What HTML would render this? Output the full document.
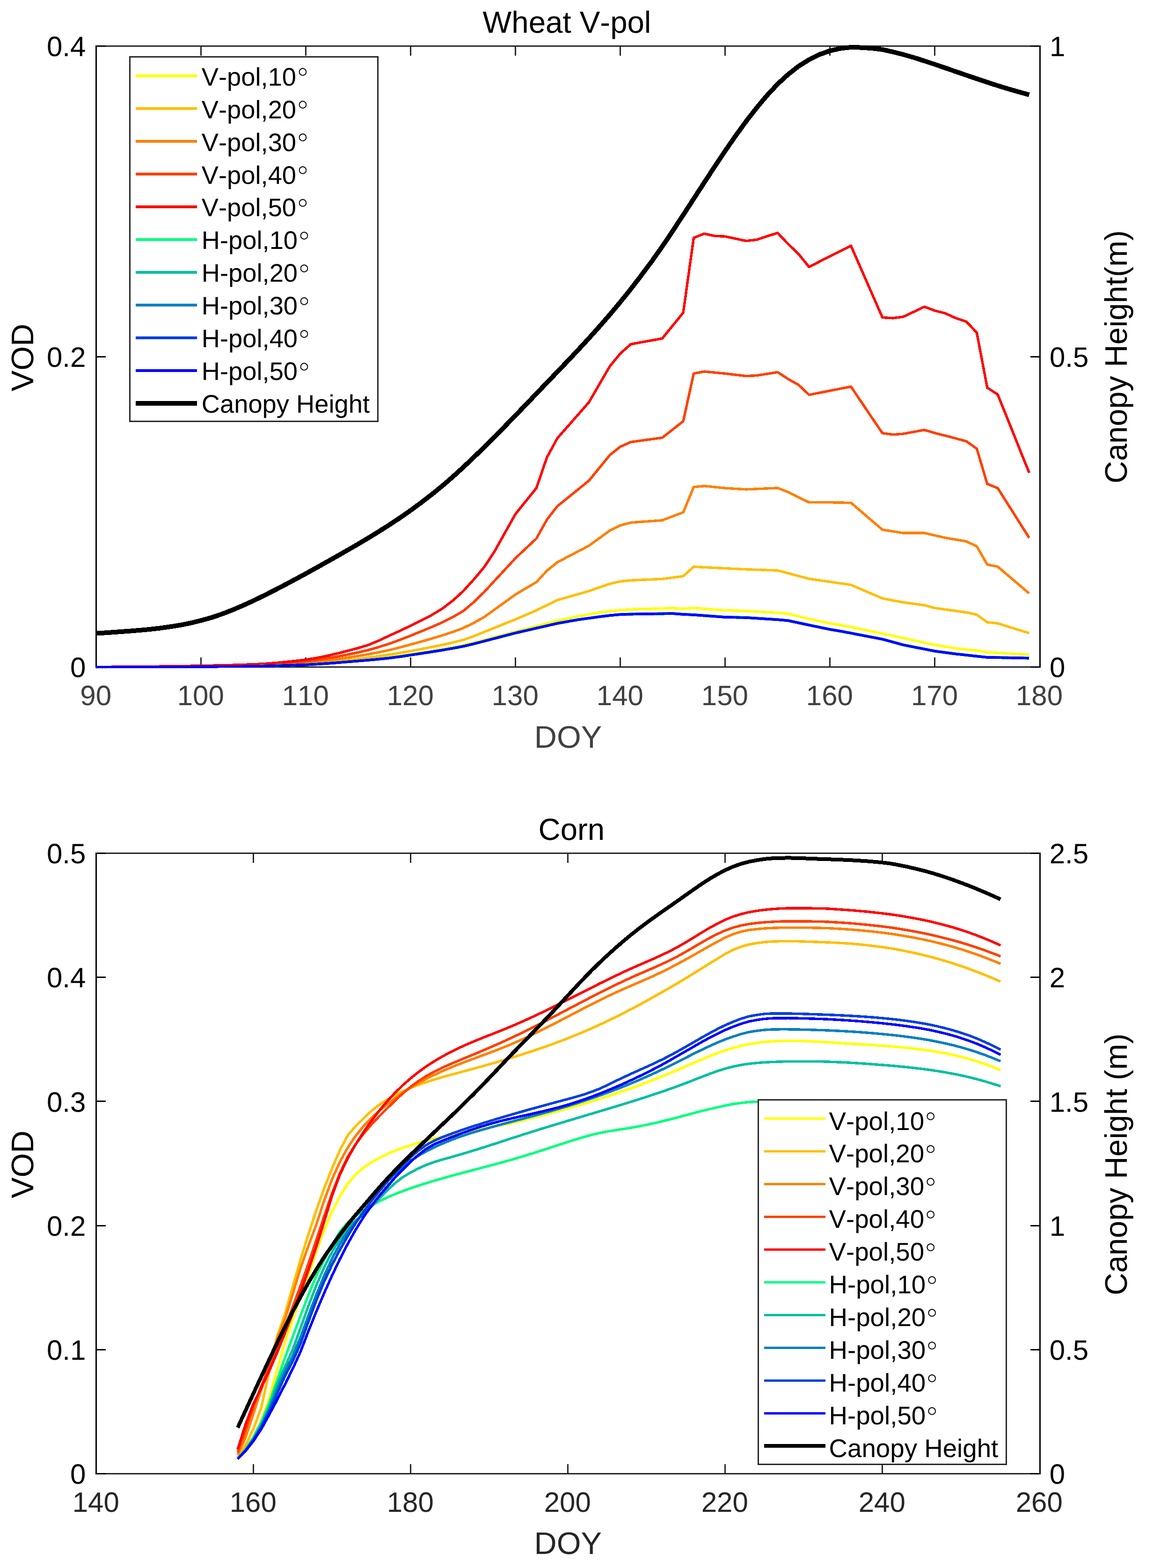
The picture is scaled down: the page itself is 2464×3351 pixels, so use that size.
<!DOCTYPE html>
<html lang="en">
<head>
<meta charset="utf-8">
<title>VOD and canopy height: Wheat V-pol / Corn</title>
<style>
html,body{margin:0;padding:0;background:#fff;}
body{width:2464px;height:3351px;overflow:hidden;}
svg{display:block;}
text{font-family:"Liberation Sans", sans-serif;white-space:pre;font-kerning:none;font-feature-settings:"kern" 0,"liga" 0;text-rendering:geometricPrecision;}
</style>
</head>
<body>
<svg width="2464" height="3351" viewBox="0 0 2464 3351">
<rect width="2464" height="3351" fill="#fff"/>
<g id="chart-wheat">
<g stroke="#262626" stroke-width="3" fill="none" shape-rendering="crispEdges">
<line x1="204" y1="98.5" x2="2223.9" y2="98.5"/>
<line x1="204" y1="1425.8" x2="2223.9" y2="1425.8"/>
<line x1="429.5" y1="1425.8" x2="429.5" y2="1405.3"/>
<line x1="429.5" y1="98.5" x2="429.5" y2="119"/>
<line x1="653.6" y1="1425.8" x2="653.6" y2="1405.3"/>
<line x1="653.6" y1="98.5" x2="653.6" y2="119"/>
<line x1="877.6" y1="1425.8" x2="877.6" y2="1405.3"/>
<line x1="877.6" y1="98.5" x2="877.6" y2="119"/>
<line x1="1101.6" y1="1425.8" x2="1101.6" y2="1405.3"/>
<line x1="1101.6" y1="98.5" x2="1101.6" y2="119"/>
<line x1="1325.7" y1="1425.8" x2="1325.7" y2="1405.3"/>
<line x1="1325.7" y1="98.5" x2="1325.7" y2="119"/>
<line x1="1549.7" y1="1425.8" x2="1549.7" y2="1405.3"/>
<line x1="1549.7" y1="98.5" x2="1549.7" y2="119"/>
<line x1="1773.7" y1="1425.8" x2="1773.7" y2="1405.3"/>
<line x1="1773.7" y1="98.5" x2="1773.7" y2="119"/>
<line x1="1997.8" y1="1425.8" x2="1997.8" y2="1405.3"/>
<line x1="1997.8" y1="98.5" x2="1997.8" y2="119"/>
</g>
<g stroke="#000" stroke-width="3" fill="none" shape-rendering="crispEdges">
<line x1="205.5" y1="97" x2="205.5" y2="1427.3"/>
<line x1="2222.4" y1="97" x2="2222.4" y2="1427.3"/>
<line x1="205.5" y1="1425.8" x2="226" y2="1425.8"/>
<line x1="2222.4" y1="1425.8" x2="2201.9" y2="1425.8"/>
<line x1="205.5" y1="762.1" x2="226" y2="762.1"/>
<line x1="2222.4" y1="762.1" x2="2201.9" y2="762.1"/>
<line x1="205.5" y1="98.5" x2="226" y2="98.5"/>
<line x1="2222.4" y1="98.5" x2="2201.9" y2="98.5"/>
</g>
<g>
<polyline points="205.5,1425.8 227.9,1425.8 250.3,1425.7 272.7,1425.6 295.1,1425.6 317.5,1425.5 339.9,1425.4 362.3,1425.3 384.7,1425.1 407.1,1425 429.5,1424.8 451.9,1424.6 474.3,1424.4 496.7,1424.1 519.1,1423.9 541.5,1423.5 564,1423 586.4,1422.3 608.8,1421.5 631.2,1420.6 653.6,1419.5 676,1418.1 698.4,1416.5 720.8,1414.7 743.2,1412.9 765.6,1411.1 788,1409.2 810.4,1407 832.8,1404.6 855.2,1401.6 877.6,1398.3 900,1394.8 922.4,1391.2 944.8,1387.5 967.2,1383.5 989.6,1379.1 1012,1373.7 1034.4,1367.8 1056.8,1361.8 1079.2,1355.8 1101.6,1349.8 1124,1344 1146.4,1338.2 1168.8,1332.4 1191.2,1326.6 1213.7,1321.8 1236.1,1317 1258.5,1313 1280.9,1309 1303.3,1306.2 1325.7,1303.9 1348.1,1302.4 1370.5,1301.6 1392.9,1301.1 1415.3,1300.4 1437.7,1299.7 1460.1,1300.9 1482.5,1299.4 1504.9,1301 1527.3,1302.7 1549.7,1304.4 1572.1,1305 1594.5,1305.7 1616.9,1307 1639.3,1308.3 1661.7,1309.7 1684.1,1311.7 1706.5,1317.1 1728.9,1322.6 1751.3,1327.4 1773.7,1332.2 1796.1,1335.7 1818.5,1340.2 1840.9,1344.8 1863.3,1349.5 1885.8,1354.1 1908.2,1358.9 1930.6,1363.7 1953,1368.6 1975.4,1373.5 1997.8,1378.3 2020.2,1382 2042.6,1385.6 2065,1388 2087.4,1390.3 2109.8,1393.9 2132.2,1395.2 2154.6,1396.4 2177,1397.7 2199.4,1398.9" fill="none" stroke="#ffff00" stroke-width="5.4" stroke-linejoin="round" stroke-linecap="butt" shape-rendering="crispEdges"/>
<polyline points="205.5,1425.8 227.9,1425.7 250.3,1425.5 272.7,1425.4 295.1,1425.3 317.5,1425.1 339.9,1425 362.3,1424.9 384.7,1424.8 407.1,1424.6 429.5,1424.5 451.9,1424.3 474.3,1424.1 496.7,1423.8 519.1,1423.5 541.5,1423.2 564,1422.7 586.4,1421.9 608.8,1420.8 631.2,1419.7 653.6,1418.5 676,1417 698.4,1415.2 720.8,1413.1 743.2,1410.7 765.6,1408.1 788,1405.3 810.4,1402.2 832.8,1398.9 855.2,1395.3 877.6,1391.3 900,1387.1 922.4,1382.8 944.8,1378.3 967.2,1373.3 989.6,1367.7 1012,1359.9 1034.4,1350.8 1056.8,1341.8 1079.2,1332.7 1101.6,1323.6 1124,1314 1146.4,1304.4 1168.8,1293.4 1191.2,1282.5 1213.7,1276 1236.1,1269.6 1258.5,1263.2 1280.9,1255.4 1303.3,1247.6 1325.7,1242.6 1348.1,1240.3 1370.5,1239.3 1392.9,1238.3 1415.3,1237.3 1437.7,1234.3 1460.1,1231.4 1482.5,1211.1 1504.9,1212.4 1527.3,1213.5 1549.7,1214.6 1572.1,1215.7 1594.5,1216.8 1616.9,1217.5 1639.3,1218.3 1661.7,1219.1 1684.1,1225 1706.5,1231 1728.9,1237 1751.3,1240.2 1773.7,1243.5 1796.1,1246.7 1818.5,1249.9 1840.9,1259.6 1863.3,1269.2 1885.8,1278.8 1908.2,1283.1 1930.6,1287.4 1953,1290.4 1975.4,1293.4 1997.8,1299.4 2020.2,1302.5 2042.6,1305.6 2065,1308.7 2087.4,1313.6 2109.8,1329.9 2132.2,1332.2 2154.6,1339.2 2177,1346.2 2199.4,1353.1" fill="none" stroke="#ffbf00" stroke-width="5.4" stroke-linejoin="round" stroke-linecap="butt" shape-rendering="crispEdges"/>
<polyline points="205.5,1425.5 227.9,1425.4 250.3,1425.4 272.7,1425.3 295.1,1425.2 317.5,1425.1 339.9,1425 362.3,1424.8 384.7,1424.6 407.1,1424.4 429.5,1424.1 451.9,1423.9 474.3,1423.5 496.7,1423.1 519.1,1422.8 541.5,1422.3 564,1421.7 586.4,1420.5 608.8,1419.2 631.2,1417.8 653.6,1416.2 676,1414.1 698.4,1411.7 720.8,1408.7 743.2,1405.3 765.6,1401.8 788,1398 810.4,1393.8 832.8,1389 855.2,1383.5 877.6,1377.4 900,1371.1 922.4,1364.8 944.8,1358.1 967.2,1350.7 989.6,1342.4 1012,1331.4 1034.4,1319 1056.8,1302.8 1079.2,1286.7 1101.6,1270.5 1124,1257.2 1146.4,1244 1168.8,1219.7 1191.2,1201.5 1213.7,1189.8 1236.1,1178 1258.5,1166.3 1280.9,1150.1 1303.3,1133.8 1325.7,1122.8 1348.1,1116.9 1370.5,1115.2 1392.9,1113.6 1415.3,1111.9 1437.7,1103.4 1460.1,1095 1482.5,1040.9 1504.9,1038.6 1527.3,1040.9 1549.7,1043.2 1572.1,1044.5 1594.5,1045.9 1616.9,1044.9 1639.3,1043.9 1661.7,1042.9 1684.1,1051.5 1706.5,1062.6 1728.9,1073.7 1751.3,1073.7 1773.7,1073.7 1796.1,1074.1 1818.5,1074.4 1840.9,1093.6 1863.3,1112.9 1885.8,1132.1 1908.2,1135.6 1930.6,1139.1 1953,1139.1 1975.4,1139.1 1997.8,1144.2 2020.2,1149.4 2042.6,1153.2 2065,1157 2087.4,1167.6 2109.8,1206.5 2132.2,1211.1 2154.6,1230.1 2177,1249.2 2199.4,1268.2" fill="none" stroke="#ff8000" stroke-width="5.4" stroke-linejoin="round" stroke-linecap="butt" shape-rendering="crispEdges"/>
<polyline points="205.5,1425.5 227.9,1425.4 250.3,1425.3 272.7,1425.1 295.1,1425 317.5,1424.8 339.9,1424.6 362.3,1424.4 384.7,1424.1 407.1,1423.8 429.5,1423.5 451.9,1423.1 474.3,1422.6 496.7,1422.1 519.1,1421.7 541.5,1421.1 564,1420.3 586.4,1418.9 608.8,1417.2 631.2,1415.5 653.6,1413.5 676,1410.6 698.4,1407.1 720.8,1403.2 743.2,1398.9 765.6,1394.3 788,1389 810.4,1382.6 832.8,1375.4 855.2,1367.3 877.6,1358.4 900,1349.3 922.4,1340.1 944.8,1330.3 967.2,1319.1 989.6,1306.1 1012,1287.4 1034.4,1265.5 1056.8,1241.3 1079.2,1217.1 1101.6,1192.9 1124,1171.8 1146.4,1150.7 1168.8,1110.6 1191.2,1081.7 1213.7,1063.6 1236.1,1045.4 1258.5,1027.3 1280.9,999.9 1303.3,972.5 1325.7,954.6 1348.1,944.7 1370.5,941.6 1392.9,938.5 1415.3,935.4 1437.7,917.8 1460.1,900.2 1482.5,798.3 1504.9,794 1527.3,796.2 1549.7,798.3 1572.1,801 1594.5,803.6 1616.9,802.6 1639.3,799 1661.7,795.3 1684.1,809.9 1706.5,822.5 1728.9,843.8 1751.3,839.4 1773.7,835 1796.1,830.6 1818.5,826.2 1840.9,859.4 1863.3,892.6 1885.8,925.7 1908.2,928.7 1930.6,927.1 1953,922.9 1975.4,918.8 1997.8,925.4 2020.2,931 2042.6,937 2065,943 2087.4,958.9 2109.8,1034.2 2132.2,1043.2 2154.6,1078.6 2177,1114 2199.4,1149.4" fill="none" stroke="#ff4000" stroke-width="5.4" stroke-linejoin="round" stroke-linecap="butt" shape-rendering="crispEdges"/>
<polyline points="205.5,1425.5 227.9,1425.3 250.3,1425.1 272.7,1424.9 295.1,1424.7 317.5,1424.5 339.9,1424.2 362.3,1423.9 384.7,1423.6 407.1,1423.2 429.5,1422.8 451.9,1422.3 474.3,1421.8 496.7,1421.2 519.1,1420.5 541.5,1419.7 564,1418.6 586.4,1416.9 608.8,1414.8 631.2,1412.5 653.6,1409.8 676,1406.2 698.4,1401.7 720.8,1396.5 743.2,1390.8 765.6,1384.9 788,1378.1 810.4,1368.7 832.8,1358.1 855.2,1347.9 877.6,1337.2 900,1326.2 922.4,1314.6 944.8,1301 967.2,1284 989.6,1263.6 1012,1239 1034.4,1212.4 1056.8,1178.6 1079.2,1138.4 1101.6,1098.6 1124,1070.7 1146.4,1042.9 1168.8,977.5 1191.2,936.4 1213.7,910.8 1236.1,885.3 1258.5,859.7 1280.9,821.2 1303.3,782.7 1325.7,755.5 1348.1,735.6 1370.5,731.5 1392.9,727.4 1415.3,723.3 1437.7,695.8 1460.1,668.2 1482.5,508.3 1504.9,499.3 1527.3,504.3 1549.7,505.3 1572.1,510.1 1594.5,514.9 1616.9,512.3 1639.3,505 1661.7,497.7 1684.1,521.2 1706.5,542.8 1728.9,570.4 1751.3,559.1 1773.7,547.8 1796.1,536.5 1818.5,525.2 1840.9,576.3 1863.3,627.4 1885.8,678.5 1908.2,679.9 1930.6,676.9 1953,666.3 1975.4,655.6 1997.8,663.9 2020.2,669.6 2042.6,679.9 2065,687.2 2087.4,711 2109.8,828.5 2132.2,843.1 2154.6,898.9 2177,954.6 2199.4,1010.4" fill="none" stroke="#ff0000" stroke-width="5.4" stroke-linejoin="round" stroke-linecap="butt" shape-rendering="crispEdges"/>
<polyline points="205.5,1425.8 227.9,1425.7 250.3,1425.7 272.7,1425.6 295.1,1425.5 317.5,1425.5 339.9,1425.4 362.3,1425.4 384.7,1425.3 407.1,1425.2 429.5,1425.1 451.9,1425 474.3,1424.7 496.7,1424.5 519.1,1424.2 541.5,1423.8 564,1422.9 586.4,1422.3 608.8,1421.7 631.2,1421 653.6,1420.2 676,1419 698.4,1417.5 720.8,1415.8 743.2,1413.9 765.6,1412.1 788,1410.2 810.4,1408.1 832.8,1405.7 855.2,1402.8 877.6,1399.4 900,1396 922.4,1392.6 944.8,1389 967.2,1385.1 989.6,1380.9 1012,1375.6 1034.4,1369.8 1056.8,1364 1079.2,1358.1 1101.6,1352.3 1124,1347.2 1146.4,1342 1168.8,1336.9 1191.2,1331.7 1213.7,1327.7 1236.1,1323.8 1258.5,1320.7 1280.9,1317.6 1303.3,1314.8 1325.7,1312.8 1348.1,1312 1370.5,1311.7 1392.9,1311.4 1415.3,1311 1437.7,1310.7 1460.1,1312.5 1482.5,1313.5 1504.9,1315.1 1527.3,1316.8 1549.7,1318.5 1572.1,1319 1594.5,1319.5 1616.9,1320.9 1639.3,1322.3 1661.7,1323.8 1684.1,1325.8 1706.5,1330.6 1728.9,1335.4 1751.3,1340 1773.7,1344.7 1796.1,1348.4 1818.5,1352.6 1840.9,1357 1863.3,1361.3 1885.8,1365.6 1908.2,1371.7 1930.6,1377.9 1953,1382.3 1975.4,1386.7 1997.8,1391.1 2020.2,1394.1 2042.6,1397.1 2065,1399.5 2087.4,1402 2109.8,1404.4 2132.2,1404.8 2154.6,1405.2 2177,1405.6 2199.4,1406.1" fill="none" stroke="#00ff80" stroke-width="5.4" stroke-linejoin="round" stroke-linecap="butt" shape-rendering="crispEdges"/>
<polyline points="205.5,1425.8 227.9,1425.7 250.3,1425.7 272.7,1425.6 295.1,1425.5 317.5,1425.5 339.9,1425.4 362.3,1425.4 384.7,1425.3 407.1,1425.2 429.5,1425.1 451.9,1425 474.3,1424.7 496.7,1424.5 519.1,1424.2 541.5,1423.8 564,1423.1 586.4,1422.5 608.8,1421.8 631.2,1421.2 653.6,1420.4 676,1419.2 698.4,1417.7 720.8,1415.9 743.2,1414.1 765.6,1412.3 788,1410.4 810.4,1408.3 832.8,1405.9 855.2,1402.9 877.6,1399.6 900,1396.2 922.4,1392.7 944.8,1389.1 967.2,1385.3 989.6,1381 1012,1375.8 1034.4,1370 1056.8,1364.1 1079.2,1358.3 1101.6,1352.5 1124,1347.3 1146.4,1342.2 1168.8,1337 1191.2,1331.9 1213.7,1327.9 1236.1,1323.9 1258.5,1320.8 1280.9,1317.8 1303.3,1314.9 1325.7,1312.9 1348.1,1312.2 1370.5,1311.8 1392.9,1311.6 1415.3,1311.2 1437.7,1310.8 1460.1,1312.6 1482.5,1313.6 1504.9,1315.3 1527.3,1317 1549.7,1318.6 1572.1,1319.1 1594.5,1319.6 1616.9,1321.1 1639.3,1322.5 1661.7,1323.9 1684.1,1325.9 1706.5,1330.7 1728.9,1335.5 1751.3,1340.2 1773.7,1344.8 1796.1,1348.6 1818.5,1352.8 1840.9,1357.1 1863.3,1361.4 1885.8,1365.7 1908.2,1371.9 1930.6,1378 1953,1382.4 1975.4,1386.9 1997.8,1391.3 2020.2,1394.3 2042.6,1397.3 2065,1399.7 2087.4,1402.1 2109.8,1404.6 2132.2,1405 2154.6,1405.4 2177,1405.8 2199.4,1406.2" fill="none" stroke="#00bfa0" stroke-width="5.4" stroke-linejoin="round" stroke-linecap="butt" shape-rendering="crispEdges"/>
<polyline points="205.5,1425.8 227.9,1425.7 250.3,1425.7 272.7,1425.6 295.1,1425.5 317.5,1425.5 339.9,1425.4 362.3,1425.4 384.7,1425.3 407.1,1425.2 429.5,1425.1 451.9,1425 474.3,1424.7 496.7,1424.5 519.1,1424.2 541.5,1423.8 564,1423.7 586.4,1423.1 608.8,1422.5 631.2,1421.8 653.6,1421.1 676,1419.8 698.4,1418.3 720.8,1416.6 743.2,1414.7 765.6,1412.9 788,1411.1 810.4,1409 832.8,1406.6 855.2,1403.6 877.6,1400.2 900,1396.9 922.4,1393.4 944.8,1389.8 967.2,1385.9 989.6,1381.7 1012,1376.5 1034.4,1370.6 1056.8,1364.8 1079.2,1359 1101.6,1353.1 1124,1348 1146.4,1342.8 1168.8,1337.7 1191.2,1332.6 1213.7,1328.6 1236.1,1324.6 1258.5,1321.5 1280.9,1318.4 1303.3,1315.6 1325.7,1313.6 1348.1,1312.9 1370.5,1312.5 1392.9,1312.2 1415.3,1311.9 1437.7,1311.5 1460.1,1313.3 1482.5,1314.3 1504.9,1316 1527.3,1317.6 1549.7,1319.3 1572.1,1319.8 1594.5,1320.3 1616.9,1321.7 1639.3,1323.2 1661.7,1324.6 1684.1,1326.6 1706.5,1331.4 1728.9,1336.2 1751.3,1340.9 1773.7,1345.5 1796.1,1349.2 1818.5,1353.5 1840.9,1357.8 1863.3,1362.1 1885.8,1366.4 1908.2,1372.5 1930.6,1378.7 1953,1383.1 1975.4,1387.5 1997.8,1392 2020.2,1394.9 2042.6,1397.9 2065,1400.4 2087.4,1402.8 2109.8,1405.2 2132.2,1405.6 2154.6,1406.1 2177,1406.5 2199.4,1406.9" fill="none" stroke="#0080bf" stroke-width="5.4" stroke-linejoin="round" stroke-linecap="butt" shape-rendering="crispEdges"/>
<polyline points="205.5,1425.8 227.9,1425.7 250.3,1425.7 272.7,1425.6 295.1,1425.5 317.5,1425.5 339.9,1425.4 362.3,1425.4 384.7,1425.3 407.1,1425.2 429.5,1425.1 451.9,1425 474.3,1424.7 496.7,1424.5 519.1,1424.2 541.5,1423.8 564,1423.2 586.4,1422.6 608.8,1422 631.2,1421.3 653.6,1420.6 676,1419.4 698.4,1417.8 720.8,1416.1 743.2,1414.2 765.6,1412.4 788,1410.6 810.4,1408.5 832.8,1406.1 855.2,1403.1 877.6,1399.8 900,1396.4 922.4,1392.9 944.8,1389.3 967.2,1385.4 989.6,1381.2 1012,1376 1034.4,1370.1 1056.8,1364.3 1079.2,1358.5 1101.6,1352.6 1124,1347.5 1146.4,1342.3 1168.8,1337.2 1191.2,1332.1 1213.7,1328.1 1236.1,1324.1 1258.5,1321 1280.9,1317.9 1303.3,1315.1 1325.7,1313.1 1348.1,1312.4 1370.5,1312 1392.9,1311.7 1415.3,1311.4 1437.7,1311 1460.1,1312.8 1482.5,1313.8 1504.9,1315.5 1527.3,1317.1 1549.7,1318.8 1572.1,1319.3 1594.5,1319.8 1616.9,1321.2 1639.3,1322.7 1661.7,1324.1 1684.1,1326.1 1706.5,1330.9 1728.9,1335.7 1751.3,1340.4 1773.7,1345 1796.1,1348.8 1818.5,1353 1840.9,1357.3 1863.3,1361.6 1885.8,1365.9 1908.2,1372 1930.6,1378.2 1953,1382.6 1975.4,1387 1997.8,1391.5 2020.2,1394.4 2042.6,1397.4 2065,1399.9 2087.4,1402.3 2109.8,1404.7 2132.2,1405.1 2154.6,1405.6 2177,1406 2199.4,1406.4" fill="none" stroke="#0040df" stroke-width="5.4" stroke-linejoin="round" stroke-linecap="butt" shape-rendering="crispEdges"/>
<polyline points="205.5,1425.8 227.9,1425.7 250.3,1425.7 272.7,1425.6 295.1,1425.5 317.5,1425.5 339.9,1425.4 362.3,1425.4 384.7,1425.3 407.1,1425.2 429.5,1425.1 451.9,1425 474.3,1424.7 496.7,1424.5 519.1,1424.2 541.5,1423.8 564,1423.4 586.4,1422.8 608.8,1422.1 631.2,1421.5 653.6,1420.7 676,1419.5 698.4,1418 720.8,1416.3 743.2,1414.4 765.6,1412.6 788,1410.7 810.4,1408.6 832.8,1406.2 855.2,1403.3 877.6,1399.9 900,1396.5 922.4,1393.1 944.8,1389.4 967.2,1385.6 989.6,1381.4 1012,1376.1 1034.4,1370.3 1056.8,1364.5 1079.2,1358.6 1101.6,1352.8 1124,1347.7 1146.4,1342.5 1168.8,1337.4 1191.2,1332.2 1213.7,1328.2 1236.1,1324.3 1258.5,1321.2 1280.9,1318.1 1303.3,1315.3 1325.7,1313.3 1348.1,1312.5 1370.5,1312.2 1392.9,1311.9 1415.3,1311.5 1437.7,1311.2 1460.1,1313 1482.5,1314 1504.9,1315.6 1527.3,1317.3 1549.7,1319 1572.1,1319.5 1594.5,1319.9 1616.9,1321.4 1639.3,1322.8 1661.7,1324.3 1684.1,1326.3 1706.5,1331.1 1728.9,1335.9 1751.3,1340.5 1773.7,1345.2 1796.1,1348.9 1818.5,1353.1 1840.9,1357.5 1863.3,1361.8 1885.8,1366.1 1908.2,1372.2 1930.6,1378.3 1953,1382.8 1975.4,1387.2 1997.8,1391.6 2020.2,1394.6 2042.6,1397.6 2065,1400 2087.4,1402.5 2109.8,1404.9 2132.2,1405.3 2154.6,1405.7 2177,1406.1 2199.4,1406.6" fill="none" stroke="#0000ff" stroke-width="5.4" stroke-linejoin="round" stroke-linecap="butt" shape-rendering="crispEdges"/>
<polyline points="205.5,1353.6 227.9,1352.2 250.3,1350.6 272.7,1349 295.1,1347.2 317.5,1345.2 339.9,1342.7 362.3,1339.6 384.7,1336 407.1,1331.5 429.5,1326.1 451.9,1319.8 474.3,1312.3 496.7,1303.6 519.1,1294.1 541.5,1283.8 564,1272.9 586.4,1261.6 608.8,1249.9 631.2,1238 653.6,1225.9 676,1213.5 698.4,1200.9 720.8,1188.3 743.2,1175.5 765.6,1162.6 788,1149.2 810.4,1135.4 832.8,1121.2 855.2,1106.4 877.6,1090.7 900,1074.2 922.4,1056.9 944.8,1038.8 967.2,1019.4 989.6,999 1012,977.8 1034.4,956 1056.8,933.7 1079.2,910.9 1101.6,887.9 1124,864.6 1146.4,841.2 1168.8,817.8 1191.2,794.5 1213.7,771 1236.1,747.2 1258.5,722.9 1280.9,698 1303.3,672.3 1325.7,645.5 1348.1,617.6 1370.5,588.5 1392.9,558.4 1415.3,526.8 1437.7,493.4 1460.1,459.4 1482.5,424.8 1504.9,390.3 1527.3,356 1549.7,322.5 1572.1,290.2 1594.5,259.2 1616.9,230.5 1639.3,203.8 1661.7,179.8 1684.1,159.1 1706.5,141.6 1728.9,127.6 1751.3,116.5 1773.7,108.5 1796.1,103.5 1818.5,101 1840.9,101.6 1863.3,103.2 1885.8,105.9 1908.2,110.9 1930.6,116.6 1953,123 1975.4,130.2 1997.8,137.6 2020.2,145.2 2042.6,153 2065,160.7 2087.4,168.3 2109.8,175.8 2132.2,183.1 2154.6,189.9 2177,196.4 2199.4,202.6" fill="none" stroke="#000" stroke-width="10" stroke-linejoin="round" stroke-linecap="butt" shape-rendering="crispEdges"/>
</g>
<g font-size="60" fill="#404040" text-anchor="middle">
<text x="204.7" y="1507.2">90</text>
<text x="428.7" y="1507.2">100</text>
<text x="652.8" y="1507.2">110</text>
<text x="876.8" y="1507.2">120</text>
<text x="1100.8" y="1507.2">130</text>
<text x="1324.9" y="1507.2">140</text>
<text x="1548.9" y="1507.2">150</text>
<text x="1772.9" y="1507.2">160</text>
<text x="1997" y="1507.2">170</text>
<text x="2221" y="1507.2">180</text>
</g>
<g font-size="60" fill="#000" text-anchor="end">
<text x="183.3" y="1447.4">0</text>
<text x="183.3" y="783.8">0.2</text>
<text x="183.3" y="120.1">0.4</text>
</g>
<g font-size="60" fill="#000" text-anchor="start">
<text x="2242.9" y="1447.4">0</text>
<text x="2242.9" y="783.8">0.5</text>
<text x="2242.9" y="120.1">1</text>
</g>
<g font-size="66.7" text-anchor="middle">
<text x="1211.5" y="69.9" fill="#000" font-size="65.4">Wheat V-pol</text>
<text x="1214" y="1597.5" fill="#404040">DOY</text>
<text transform="translate(70.6 764.1) rotate(-90)" fill="#000">VOD</text>
<text transform="translate(2408.2 762.6) rotate(-90)" fill="#000">Canopy Height(m)</text>
</g>
<rect x="277.5" y="121.5" width="530.3" height="779" fill="#fff" stroke="#262626" stroke-width="3" shape-rendering="crispEdges"/>
<g font-size="54.3" fill="#000">
<line x1="290" y1="162" x2="421" y2="162" stroke="#ffff00" stroke-width="6" shape-rendering="crispEdges"/>
<text x="430.8" y="182.6">V-pol,10<tspan font-family="'DejaVu Sans', sans-serif" font-size="20.6" dx="5.0" dy="-23.3" stroke="#000" stroke-width="0.8">○</tspan></text>
<line x1="290" y1="231.9" x2="421" y2="231.9" stroke="#ffbf00" stroke-width="6" shape-rendering="crispEdges"/>
<text x="430.8" y="252.5">V-pol,20<tspan font-family="'DejaVu Sans', sans-serif" font-size="20.6" dx="5.0" dy="-23.3" stroke="#000" stroke-width="0.8">○</tspan></text>
<line x1="290" y1="301.9" x2="421" y2="301.9" stroke="#ff8000" stroke-width="6" shape-rendering="crispEdges"/>
<text x="430.8" y="322.5">V-pol,30<tspan font-family="'DejaVu Sans', sans-serif" font-size="20.6" dx="5.0" dy="-23.3" stroke="#000" stroke-width="0.8">○</tspan></text>
<line x1="290" y1="371.9" x2="421" y2="371.9" stroke="#ff4000" stroke-width="6" shape-rendering="crispEdges"/>
<text x="430.8" y="392.5">V-pol,40<tspan font-family="'DejaVu Sans', sans-serif" font-size="20.6" dx="5.0" dy="-23.3" stroke="#000" stroke-width="0.8">○</tspan></text>
<line x1="290" y1="441.8" x2="421" y2="441.8" stroke="#ff0000" stroke-width="6" shape-rendering="crispEdges"/>
<text x="430.8" y="462.4">V-pol,50<tspan font-family="'DejaVu Sans', sans-serif" font-size="20.6" dx="5.0" dy="-23.3" stroke="#000" stroke-width="0.8">○</tspan></text>
<line x1="290" y1="511.8" x2="421" y2="511.8" stroke="#00ff80" stroke-width="6" shape-rendering="crispEdges"/>
<text x="430.8" y="532.4">H-pol,10<tspan font-family="'DejaVu Sans', sans-serif" font-size="20.6" dx="5.0" dy="-23.3" stroke="#000" stroke-width="0.8">○</tspan></text>
<line x1="290" y1="581.7" x2="421" y2="581.7" stroke="#00bfa0" stroke-width="6" shape-rendering="crispEdges"/>
<text x="430.8" y="602.3">H-pol,20<tspan font-family="'DejaVu Sans', sans-serif" font-size="20.6" dx="5.0" dy="-23.3" stroke="#000" stroke-width="0.8">○</tspan></text>
<line x1="290" y1="651.7" x2="421" y2="651.7" stroke="#0080bf" stroke-width="6" shape-rendering="crispEdges"/>
<text x="430.8" y="672.3">H-pol,30<tspan font-family="'DejaVu Sans', sans-serif" font-size="20.6" dx="5.0" dy="-23.3" stroke="#000" stroke-width="0.8">○</tspan></text>
<line x1="290" y1="721.6" x2="421" y2="721.6" stroke="#0040df" stroke-width="6" shape-rendering="crispEdges"/>
<text x="430.8" y="742.2">H-pol,40<tspan font-family="'DejaVu Sans', sans-serif" font-size="20.6" dx="5.0" dy="-23.3" stroke="#000" stroke-width="0.8">○</tspan></text>
<line x1="290" y1="791.6" x2="421" y2="791.6" stroke="#0000ff" stroke-width="6" shape-rendering="crispEdges"/>
<text x="430.8" y="812.2">H-pol,50<tspan font-family="'DejaVu Sans', sans-serif" font-size="20.6" dx="5.0" dy="-23.3" stroke="#000" stroke-width="0.8">○</tspan></text>
<line x1="290" y1="861.5" x2="421" y2="861.5" stroke="#000" stroke-width="10" shape-rendering="crispEdges"/>
<text x="430.8" y="882.1">Canopy Height</text>
</g>
</g>
<g id="chart-corn">
<g stroke="#262626" stroke-width="3" fill="none" shape-rendering="crispEdges">
<line x1="204" y1="1823.5" x2="2223.7" y2="1823.5"/>
<line x1="204" y1="3149.4" x2="2223.7" y2="3149.4"/>
<line x1="541.5" y1="3149.4" x2="541.5" y2="3128.9"/>
<line x1="541.5" y1="1823.5" x2="541.5" y2="1844"/>
<line x1="877.5" y1="3149.4" x2="877.5" y2="3128.9"/>
<line x1="877.5" y1="1823.5" x2="877.5" y2="1844"/>
<line x1="1213.5" y1="3149.4" x2="1213.5" y2="3128.9"/>
<line x1="1213.5" y1="1823.5" x2="1213.5" y2="1844"/>
<line x1="1549.6" y1="3149.4" x2="1549.6" y2="3128.9"/>
<line x1="1549.6" y1="1823.5" x2="1549.6" y2="1844"/>
<line x1="1885.6" y1="3149.4" x2="1885.6" y2="3128.9"/>
<line x1="1885.6" y1="1823.5" x2="1885.6" y2="1844"/>
</g>
<g stroke="#000" stroke-width="3" fill="none" shape-rendering="crispEdges">
<line x1="205.5" y1="1822" x2="205.5" y2="3150.9"/>
<line x1="2222.2" y1="1822" x2="2222.2" y2="3150.9"/>
<line x1="205.5" y1="3149.4" x2="226" y2="3149.4"/>
<line x1="2222.2" y1="3149.4" x2="2201.7" y2="3149.4"/>
<line x1="205.5" y1="2884.2" x2="226" y2="2884.2"/>
<line x1="2222.2" y1="2884.2" x2="2201.7" y2="2884.2"/>
<line x1="205.5" y1="2619" x2="226" y2="2619"/>
<line x1="2222.2" y1="2619" x2="2201.7" y2="2619"/>
<line x1="205.5" y1="2353.9" x2="226" y2="2353.9"/>
<line x1="2222.2" y1="2353.9" x2="2201.7" y2="2353.9"/>
<line x1="205.5" y1="2088.7" x2="226" y2="2088.7"/>
<line x1="2222.2" y1="2088.7" x2="2201.7" y2="2088.7"/>
<line x1="205.5" y1="1823.5" x2="226" y2="1823.5"/>
<line x1="2222.2" y1="1823.5" x2="2201.7" y2="1823.5"/>
</g>
<g>
<polyline points="508,3116.4 524.8,3097 541.6,3070.7 558.4,3036.7 575.2,2988.8 592,2926.7 608.8,2869.4 625.7,2818.6 642.5,2771.7 659.3,2724.1 676.1,2673.5 692.9,2628.2 709.7,2589.1 726.5,2556.1 743.3,2529.7 760.1,2509.9 776.9,2495.2 793.7,2483.9 810.5,2474.5 827.3,2466.3 844.1,2459.2 860.9,2452.9 877.7,2447.3 894.5,2442.1 911.4,2437.3 928.2,2433.1 945,2429.4 961.8,2426 978.6,2422.6 995.4,2419.4 1012.2,2416.1 1029,2412.8 1045.8,2409.5 1062.6,2406.3 1079.4,2402.9 1096.2,2399.4 1113,2395.5 1129.8,2391.2 1146.6,2386.9 1163.4,2382.5 1180.2,2378 1197.1,2373.4 1213.9,2368.7 1230.7,2363.9 1247.5,2358.9 1264.3,2353.8 1281.1,2348.6 1297.9,2343.2 1314.7,2337.6 1331.5,2331.9 1348.3,2325.9 1365.1,2319.7 1381.9,2313.3 1398.7,2306.8 1415.5,2300 1432.3,2293.1 1449.1,2285.9 1466,2278.7 1482.8,2271.4 1499.6,2264.1 1516.4,2257.1 1533.2,2250.5 1550,2244.5 1566.8,2239.4 1583.6,2235 1600.4,2231.5 1617.2,2228.8 1634,2226.7 1650.8,2225.4 1667.6,2224.6 1684.4,2224.2 1701.2,2224.3 1718,2224.8 1734.8,2225.6 1751.7,2226.4 1768.5,2227.3 1785.3,2228.5 1802.1,2229.7 1818.9,2230.7 1835.7,2231.7 1852.5,2232.6 1869.3,2233.7 1886.1,2234.9 1902.9,2236.2 1919.7,2237.6 1936.5,2239.2 1953.3,2241 1970.1,2243 1986.9,2245.3 2003.7,2248.1 2020.5,2251.1 2037.4,2254.7 2054.2,2258.6 2071,2263.1 2087.8,2268.2 2104.6,2273.8 2121.4,2280 2138.2,2286.8" fill="none" stroke="#ffff00" stroke-width="5.4" stroke-linejoin="round" stroke-linecap="butt" shape-rendering="crispEdges"/>
<polyline points="508,3114 524.8,3088.4 541.6,3054 558.4,3007.8 575.2,2931.8 592,2857 608.8,2809.4 625.7,2749.5 642.5,2691.3 659.3,2636.9 676.1,2586.1 692.9,2539.2 709.7,2496.5 726.5,2458 743.3,2426.2 760.1,2406.8 776.9,2390 793.7,2374.3 810.5,2361 827.3,2350 844.1,2340.5 860.9,2332.2 877.7,2324.9 894.5,2318.4 911.4,2312.4 928.2,2307.1 945,2302.1 961.8,2297.4 978.6,2292.9 995.4,2288.4 1012.2,2283.8 1029,2279.2 1045.8,2274.4 1062.6,2269.6 1079.4,2264.6 1096.2,2259.5 1113,2254.3 1129.8,2248.9 1146.6,2243.3 1163.4,2237.5 1180.2,2231.5 1197.1,2225.3 1213.9,2218.8 1230.7,2212 1247.5,2205 1264.3,2197.7 1281.1,2190.1 1297.9,2182.2 1314.7,2174 1331.5,2165.6 1348.3,2157 1365.1,2148 1381.9,2138.9 1398.7,2129.5 1415.5,2120 1432.3,2110.3 1449.1,2100.5 1466,2090.4 1482.8,2080.1 1499.6,2069.6 1516.4,2059.1 1533.2,2048.7 1550,2038.6 1566.8,2029.8 1583.6,2023.2 1600.4,2018.5 1617.2,2015.5 1634,2013.3 1650.8,2012.1 1667.6,2011.7 1684.4,2011.5 1701.2,2011.6 1718,2012.1 1734.8,2012.7 1751.7,2013.4 1768.5,2014 1785.3,2014.7 1802.1,2015.6 1818.9,2016.7 1835.7,2018.2 1852.5,2020 1869.3,2022 1886.1,2024.1 1902.9,2026.6 1919.7,2029.6 1936.5,2032.9 1953.3,2036.5 1970.1,2040.3 1986.9,2044.4 2003.7,2049 2020.5,2053.9 2037.4,2059.1 2054.2,2064.7 2071,2070.6 2087.8,2076.9 2104.6,2083.5 2121.4,2090.5 2138.2,2097.8" fill="none" stroke="#ffbf00" stroke-width="5.4" stroke-linejoin="round" stroke-linecap="butt" shape-rendering="crispEdges"/>
<polyline points="508,3109.1 524.8,3072 541.6,3021 558.4,2969.6 575.2,2911.4 592,2861.6 608.8,2819.8 625.7,2765 642.5,2709.5 659.3,2662 676.1,2616.8 692.9,2565.4 709.7,2520 726.5,2482.8 743.3,2452.3 760.1,2427.4 776.9,2406.7 793.7,2389.3 810.5,2374.1 827.3,2360.1 844.1,2347.3 860.9,2335.4 877.7,2324.5 894.5,2314.5 911.4,2305.4 928.2,2297.1 945,2289.3 961.8,2282.1 978.6,2275.3 995.4,2268.8 1012.2,2262.5 1029,2256.3 1045.8,2250.1 1062.6,2243.7 1079.4,2237 1096.2,2230.1 1113,2222.7 1129.8,2214.9 1146.6,2206.8 1163.4,2198.4 1180.2,2189.9 1197.1,2181.2 1213.9,2172.4 1230.7,2163.7 1247.5,2154.9 1264.3,2146.3 1281.1,2137.8 1297.9,2129.6 1314.7,2121.7 1331.5,2114.1 1348.3,2106.8 1365.1,2099.5 1381.9,2092.2 1398.7,2084.7 1415.5,2076.7 1432.3,2068.2 1449.1,2059.4 1466,2050.2 1482.8,2040.8 1499.6,2031.2 1516.4,2021.7 1533.2,2012.4 1550,2003.6 1566.8,1996.4 1583.6,1991.1 1600.4,1987.5 1617.2,1985.6 1634,1984.1 1650.8,1983.2 1667.6,1982.7 1684.4,1982.4 1701.2,1982.5 1718,1982.6 1734.8,1982.8 1751.7,1983.1 1768.5,1983.6 1785.3,1984.4 1802.1,1985.5 1818.9,1986.6 1835.7,1988 1852.5,1989.6 1869.3,1991.4 1886.1,1993.3 1902.9,1995.5 1919.7,1998 1936.5,2000.9 1953.3,2003.9 1970.1,2007.2 1986.9,2010.8 2003.7,2014.8 2020.5,2019.1 2037.4,2023.8 2054.2,2028.8 2071,2034.2 2087.8,2040 2104.6,2046.2 2121.4,2052.8 2138.2,2059.7" fill="none" stroke="#ff8000" stroke-width="5.4" stroke-linejoin="round" stroke-linecap="butt" shape-rendering="crispEdges"/>
<polyline points="508,3103.7 524.8,3055.2 541.6,3006.2 558.4,2961.8 575.2,2920 592,2879 608.8,2836.5 625.7,2792.6 642.5,2747.2 659.3,2700 676.1,2649.9 692.9,2598.8 709.7,2549.9 726.5,2507 743.3,2471.9 760.1,2445.3 776.9,2423 793.7,2403.4 810.5,2385.6 827.3,2368.8 844.1,2352.4 860.9,2336.7 877.7,2322.5 894.5,2310.3 911.4,2299.5 928.2,2290.2 945,2281.9 961.8,2274.4 978.6,2267.3 995.4,2260.3 1012.2,2253.4 1029,2246.3 1045.8,2239.1 1062.6,2231.8 1079.4,2224.2 1096.2,2216.5 1113,2208.4 1129.8,2200.2 1146.6,2191.8 1163.4,2183.2 1180.2,2174.5 1197.1,2165.7 1213.9,2156.8 1230.7,2148 1247.5,2139.2 1264.3,2130.5 1281.1,2121.9 1297.9,2113.5 1314.7,2105.2 1331.5,2097.2 1348.3,2089.4 1365.1,2082 1381.9,2074.7 1398.7,2067.5 1415.5,2059.9 1432.3,2051.9 1449.1,2043.3 1466,2033.8 1482.8,2024 1499.6,2014.1 1516.4,2004.6 1533.2,1996 1550,1988.4 1566.8,1982.4 1583.6,1977.9 1600.4,1974.7 1617.2,1972.6 1634,1971 1650.8,1970 1667.6,1969.2 1684.4,1968.9 1701.2,1968.9 1718,1969 1734.8,1969.2 1751.7,1969.5 1768.5,1970 1785.3,1970.9 1802.1,1972 1818.9,1973.2 1835.7,1974.7 1852.5,1976.3 1869.3,1978.1 1886.1,1980 1902.9,1982.2 1919.7,1984.7 1936.5,1987.5 1953.3,1990.5 1970.1,1993.7 1986.9,1997.2 2003.7,2001.1 2020.5,2005.3 2037.4,2009.7 2054.2,2014.5 2071,2019.6 2087.8,2025.2 2104.6,2031 2121.4,2037.2 2138.2,2043.8" fill="none" stroke="#ff4000" stroke-width="5.4" stroke-linejoin="round" stroke-linecap="butt" shape-rendering="crispEdges"/>
<polyline points="508,3097.3 524.8,3044 541.6,3000.1 558.4,2966.2 575.2,2930.2 592,2891.3 608.8,2849.6 625.7,2806.2 642.5,2761 659.3,2713.9 676.1,2663.8 692.9,2610.1 709.7,2555 726.5,2510.1 743.3,2474.9 760.1,2445.7 776.9,2419.5 793.7,2395.5 810.5,2373.6 827.3,2353.6 844.1,2335.5 860.9,2319.2 877.7,2304.3 894.5,2291 911.4,2278.8 928.2,2267.9 945,2258 961.8,2249 978.6,2240.7 995.4,2233 1012.2,2225.8 1029,2218.9 1045.8,2212.3 1062.6,2205.6 1079.4,2198.9 1096.2,2191.9 1113,2184.6 1129.8,2177.1 1146.6,2169.3 1163.4,2161.2 1180.2,2153 1197.1,2144.6 1213.9,2136.2 1230.7,2127.7 1247.5,2119.1 1264.3,2110.7 1281.1,2102.2 1297.9,2093.9 1314.7,2085.8 1331.5,2077.8 1348.3,2070.1 1365.1,2062.7 1381.9,2055.4 1398.7,2048.1 1415.5,2040.4 1432.3,2032.3 1449.1,2023.4 1466,2013.6 1482.8,2003.4 1499.6,1993 1516.4,1983 1533.2,1973.9 1550,1965.5 1566.8,1958.8 1583.6,1953.5 1600.4,1949.5 1617.2,1946.6 1634,1944.4 1650.8,1942.8 1667.6,1941.6 1684.4,1941 1701.2,1941 1718,1941.1 1734.8,1941.2 1751.7,1941.4 1768.5,1941.9 1785.3,1943 1802.1,1944.2 1818.9,1945.4 1835.7,1946.8 1852.5,1948.3 1869.3,1950.1 1886.1,1952 1902.9,1954.1 1919.7,1956.6 1936.5,1959.3 1953.3,1962.3 1970.1,1965.5 1986.9,1969.1 2003.7,1973.1 2020.5,1977.5 2037.4,1982.2 2054.2,1987.4 2071,1993 2087.8,1999.2 2104.6,2005.8 2121.4,2012.8 2138.2,2020.4" fill="none" stroke="#ff0000" stroke-width="5.4" stroke-linejoin="round" stroke-linecap="butt" shape-rendering="crispEdges"/>
<polyline points="508,3116.9 524.8,3097.5 541.6,3071.9 558.4,3039.1 575.2,2998.7 592,2949.9 608.8,2902.4 625.7,2856.5 642.5,2811.3 659.3,2766.6 676.1,2726.4 692.9,2691.6 709.7,2660.4 726.5,2632.3 743.3,2612.6 760.1,2598.6 776.9,2586.7 793.7,2576.4 810.5,2567.4 827.3,2559.2 844.1,2551.9 860.9,2545.5 877.7,2539.5 894.5,2533.8 911.4,2528.4 928.2,2523.2 945,2518.4 961.8,2513.7 978.6,2509.1 995.4,2504.6 1012.2,2500.3 1029,2495.9 1045.8,2491.4 1062.6,2486.9 1079.4,2482.3 1096.2,2477.6 1113,2472.6 1129.8,2467.5 1146.6,2462.2 1163.4,2456.8 1180.2,2451.3 1197.1,2445.8 1213.9,2440.4 1230.7,2435 1247.5,2430 1264.3,2425.4 1281.1,2421.4 1297.9,2418.2 1314.7,2415.4 1331.5,2412.8 1348.3,2410.2 1365.1,2407.2 1381.9,2403.8 1398.7,2400.2 1415.5,2396.3 1432.3,2392.1 1449.1,2387.7 1466,2383.2 1482.8,2378.7 1499.6,2374.3 1516.4,2370.2 1533.2,2366.5 1550,2362.7 1566.8,2359.4 1583.6,2357.1 1600.4,2355.3 1617.2,2354.3 1634,2354.7 1650.8,2355.9 1667.6,2357.4 1684.4,2358.9 1701.2,2359.8 1718,2360.4 1734.8,2360.8 1751.7,2361.1 1768.5,2361.5 1785.3,2361.9 1802.1,2362.4 1818.9,2363.1 1835.7,2363.8 1852.5,2364.6 1869.3,2365.6 1886.1,2366.7 1902.9,2367.9 1919.7,2369.4 1936.5,2371.2 1953.3,2373.3 1970.1,2375.6 1986.9,2378.1 2003.7,2380.7 2020.5,2383.5 2037.4,2386.6 2054.2,2390 2071,2393.6 2087.8,2397.4 2104.6,2401.2 2121.4,2405.4 2138.2,2409.9" fill="none" stroke="#00ff80" stroke-width="5.4" stroke-linejoin="round" stroke-linecap="butt" shape-rendering="crispEdges"/>
<polyline points="508,3117.4 524.8,3098.3 541.6,3073.8 558.4,3043.7 575.2,3006.7 592,2959.4 608.8,2921.1 625.7,2883.9 642.5,2837.6 659.3,2790.4 676.1,2746.9 692.9,2708.2 709.7,2675.3 726.5,2647.8 743.3,2624.8 760.1,2607.9 776.9,2594.2 793.7,2579.1 810.5,2561.4 827.3,2544 844.1,2528.7 860.9,2515.7 877.7,2505.6 894.5,2496.9 911.4,2489.4 928.2,2483.3 945,2478.2 961.8,2473.6 978.6,2468.8 995.4,2463.8 1012.2,2458.7 1029,2453.5 1045.8,2448.2 1062.6,2442.7 1079.4,2437.2 1096.2,2431.7 1113,2426.3 1129.8,2421 1146.6,2415.7 1163.4,2410.5 1180.2,2405.4 1197.1,2400.3 1213.9,2395.2 1230.7,2390.2 1247.5,2385.2 1264.3,2380.1 1281.1,2375.1 1297.9,2370.1 1314.7,2365 1331.5,2359.9 1348.3,2354.7 1365.1,2349.4 1381.9,2344 1398.7,2338.5 1415.5,2332.8 1432.3,2327 1449.1,2320.9 1466,2314.6 1482.8,2308 1499.6,2301.4 1516.4,2295 1533.2,2289 1550,2283.7 1566.8,2279.4 1583.6,2276 1600.4,2273.4 1617.2,2271.7 1634,2270.4 1650.8,2269.5 1667.6,2268.9 1684.4,2268.5 1701.2,2268.4 1718,2268.4 1734.8,2268.5 1751.7,2268.6 1768.5,2269 1785.3,2269.7 1802.1,2270.4 1818.9,2271.3 1835.7,2272.3 1852.5,2273.4 1869.3,2274.7 1886.1,2276 1902.9,2277.3 1919.7,2278.9 1936.5,2280.5 1953.3,2282.4 1970.1,2284.3 1986.9,2286.5 2003.7,2289.1 2020.5,2291.8 2037.4,2294.9 2054.2,2298.3 2071,2302.1 2087.8,2306.3 2104.6,2311 2121.4,2316 2138.2,2321.5" fill="none" stroke="#00bfa0" stroke-width="5.4" stroke-linejoin="round" stroke-linecap="butt" shape-rendering="crispEdges"/>
<polyline points="508,3117.7 524.8,3099.5 541.6,3076.1 558.4,3047.4 575.2,3012.3 592,2970 608.8,2931.8 625.7,2898.3 642.5,2857.1 659.3,2810.8 676.1,2766.5 692.9,2725.9 709.7,2689.3 726.5,2658.5 743.3,2631.8 760.1,2610.8 776.9,2594.3 793.7,2576.8 810.5,2557.8 827.3,2537.8 844.1,2516 860.9,2494.2 877.7,2480.6 894.5,2469.7 911.4,2460.4 928.2,2451.8 945,2444.3 961.8,2437.3 978.6,2430.8 995.4,2425.1 1012.2,2419.8 1029,2414.9 1045.8,2410.1 1062.6,2405.5 1079.4,2400.9 1096.2,2396.4 1113,2392 1129.8,2387.5 1146.6,2382.9 1163.4,2378.3 1180.2,2373.6 1197.1,2368.7 1213.9,2363.6 1230.7,2358.4 1247.5,2352.9 1264.3,2347.3 1281.1,2341.4 1297.9,2335.3 1314.7,2328.9 1331.5,2322.3 1348.3,2315.5 1365.1,2308.4 1381.9,2301 1398.7,2293.4 1415.5,2285.5 1432.3,2277.3 1449.1,2268.8 1466,2260.3 1482.8,2251.8 1499.6,2243.5 1516.4,2235.6 1533.2,2228.1 1550,2221.2 1566.8,2215.2 1583.6,2209.9 1600.4,2205.7 1617.2,2203 1634,2201 1650.8,2200 1667.6,2199.8 1684.4,2199.8 1701.2,2200 1718,2200.4 1734.8,2200.9 1751.7,2201.4 1768.5,2202 1785.3,2202.8 1802.1,2203.6 1818.9,2204.6 1835.7,2205.7 1852.5,2207 1869.3,2208.4 1886.1,2209.9 1902.9,2211.6 1919.7,2213.4 1936.5,2215.5 1953.3,2217.8 1970.1,2220.3 1986.9,2223.1 2003.7,2226.4 2020.5,2230 2037.4,2233.9 2054.2,2238.4 2071,2243.2 2087.8,2248.7 2104.6,2254.6 2121.4,2261.1 2138.2,2268.1" fill="none" stroke="#0080bf" stroke-width="5.4" stroke-linejoin="round" stroke-linecap="butt" shape-rendering="crispEdges"/>
<polyline points="508,3118 524.8,3100.1 541.6,3077.5 558.4,3050.1 575.2,3016.9 592,2979.1 608.8,2941.3 625.7,2908.8 642.5,2871 659.3,2824.1 676.1,2778.9 692.9,2738.3 709.7,2702.8 726.5,2670.7 743.3,2641.2 760.1,2614.1 776.9,2589.4 793.7,2566.8 810.5,2545.8 827.3,2526 844.1,2507.5 860.9,2489.6 877.7,2473.1 894.5,2458.8 911.4,2446.7 928.2,2437.6 945,2430.5 961.8,2424 978.6,2418 995.4,2412.2 1012.2,2406.7 1029,2401.3 1045.8,2396.1 1062.6,2390.9 1079.4,2386 1096.2,2381.1 1113,2376.3 1129.8,2371.5 1146.6,2366.9 1163.4,2362.3 1180.2,2357.7 1197.1,2353.2 1213.9,2348.7 1230.7,2344.1 1247.5,2339.1 1264.3,2333.3 1281.1,2326.8 1297.9,2319.1 1314.7,2310.7 1331.5,2302.8 1348.3,2295 1365.1,2287.4 1381.9,2279.9 1398.7,2272.2 1415.5,2264.1 1432.3,2255.5 1449.1,2246.3 1466,2236.8 1482.8,2227.1 1499.6,2217.4 1516.4,2208 1533.2,2199.1 1550,2190.8 1566.8,2183.6 1583.6,2177.2 1600.4,2172.1 1617.2,2169 1634,2166.8 1650.8,2165.9 1667.6,2165.9 1684.4,2166 1701.2,2166.4 1718,2166.9 1734.8,2167.4 1751.7,2168 1768.5,2168.6 1785.3,2169.3 1802.1,2170.1 1818.9,2171 1835.7,2172 1852.5,2173.2 1869.3,2174.4 1886.1,2175.9 1902.9,2177.5 1919.7,2179.4 1936.5,2181.6 1953.3,2184 1970.1,2186.7 1986.9,2189.8 2003.7,2193.4 2020.5,2197.5 2037.4,2202.1 2054.2,2207.3 2071,2213 2087.8,2219.5 2104.6,2226.8 2121.4,2234.6 2138.2,2243.2" fill="none" stroke="#0040df" stroke-width="5.4" stroke-linejoin="round" stroke-linecap="butt" shape-rendering="crispEdges"/>
<polyline points="508,3118.1 524.8,3100.9 541.6,3079.6 558.4,3054.1 575.2,3023.5 592,2992 608.8,2959 625.7,2925 642.5,2888.1 659.3,2844.3 676.1,2802.7 692.9,2763.2 709.7,2725.8 726.5,2690.5 743.3,2658 760.1,2628 776.9,2601 793.7,2577.1 810.5,2555.7 827.3,2535.7 844.1,2516.9 860.9,2499.6 877.7,2482.7 894.5,2467.8 911.4,2454.8 928.2,2445.4 945,2438.1 961.8,2431.4 978.6,2425 995.4,2418.8 1012.2,2412.9 1029,2407.4 1045.8,2402.3 1062.6,2397.7 1079.4,2393.5 1096.2,2389.5 1113,2385.7 1129.8,2381.9 1146.6,2378.1 1163.4,2374.2 1180.2,2370.1 1197.1,2365.7 1213.9,2360.9 1230.7,2355.6 1247.5,2350 1264.3,2343.9 1281.1,2337.5 1297.9,2330.7 1314.7,2323.6 1331.5,2316.3 1348.3,2308.6 1365.1,2300.7 1381.9,2292.4 1398.7,2283.9 1415.5,2275 1432.3,2265.7 1449.1,2256 1466,2246.3 1482.8,2236.6 1499.6,2227 1516.4,2217.8 1533.2,2209.2 1550,2201.1 1566.8,2194.2 1583.6,2188 1600.4,2183 1617.2,2179.8 1634,2177.4 1650.8,2176.2 1667.6,2175.9 1684.4,2175.8 1701.2,2176.1 1718,2176.5 1734.8,2177 1751.7,2177.5 1768.5,2178.2 1785.3,2179.1 1802.1,2180.1 1818.9,2181.2 1835.7,2182.4 1852.5,2183.8 1869.3,2185.3 1886.1,2186.9 1902.9,2188.7 1919.7,2190.7 1936.5,2192.9 1953.3,2195.4 1970.1,2198.1 1986.9,2201.2 2003.7,2204.9 2020.5,2208.9 2037.4,2213.4 2054.2,2218.6 2071,2224.3 2087.8,2230.7 2104.6,2237.9 2121.4,2245.7 2138.2,2254.2" fill="none" stroke="#0000ff" stroke-width="5.4" stroke-linejoin="round" stroke-linecap="butt" shape-rendering="crispEdges"/>
<polyline points="508,3050.9 524.8,3014.4 541.6,2977.9 558.4,2941.7 575.2,2905.9 592,2870.6 608.8,2836.1 625.7,2802.8 642.5,2771.1 659.3,2741 676.1,2712.7 692.9,2686.3 709.7,2661.7 726.5,2638.6 743.3,2616.7 760.1,2596.4 776.9,2576.8 793.7,2557.1 810.5,2537.7 827.3,2519.1 844.1,2501.4 860.9,2484.4 877.7,2467.8 894.5,2451.6 911.4,2435.5 928.2,2419.4 945,2403.4 961.8,2387.5 978.6,2371.4 995.4,2354.9 1012.2,2338.2 1029,2321.1 1045.8,2303.5 1062.6,2285.8 1079.4,2268 1096.2,2250.4 1113,2233.1 1129.8,2215.9 1146.6,2198.6 1163.4,2181.2 1180.2,2163.5 1197.1,2145.3 1213.9,2127.1 1230.7,2109 1247.5,2091.2 1264.3,2074 1281.1,2057.5 1297.9,2041.7 1314.7,2026.5 1331.5,2011.9 1348.3,1997.9 1365.1,1984.7 1381.9,1972 1398.7,1959.9 1415.5,1948 1432.3,1936.3 1449.1,1924.5 1466,1912.5 1482.8,1900.7 1499.6,1889.1 1516.4,1878.2 1533.2,1868.3 1550,1859.5 1566.8,1852.1 1583.6,1846.1 1600.4,1841.6 1617.2,1838.4 1634,1835.8 1650.8,1834.3 1667.6,1833.7 1684.4,1833.4 1701.2,1833.7 1718,1834.3 1734.8,1835.1 1751.7,1835.7 1768.5,1836.3 1785.3,1836.8 1802.1,1837.5 1818.9,1838.3 1835.7,1839.3 1852.5,1840.4 1869.3,1841.8 1886.1,1843.4 1902.9,1845.5 1919.7,1848.5 1936.5,1851.9 1953.3,1855.8 1970.1,1859.8 1986.9,1864.3 2003.7,1869.4 2020.5,1874.8 2037.4,1880.6 2054.2,1886.7 2071,1893.1 2087.8,1899.9 2104.6,1907 2121.4,1914.3 2138.2,1922" fill="none" stroke="#000" stroke-width="8" stroke-linejoin="round" stroke-linecap="butt" shape-rendering="crispEdges"/>
</g>
<g font-size="60" fill="#262626" text-anchor="middle">
<text x="204.7" y="3230.8">140</text>
<text x="540.7" y="3230.8">160</text>
<text x="876.7" y="3230.8">180</text>
<text x="1212.8" y="3230.8">200</text>
<text x="1548.8" y="3230.8">220</text>
<text x="1884.8" y="3230.8">240</text>
<text x="2220.8" y="3230.8">260</text>
</g>
<g font-size="60" fill="#000" text-anchor="end">
<text x="183.3" y="3171">0</text>
<text x="183.3" y="2905.8">0.1</text>
<text x="183.3" y="2640.6">0.2</text>
<text x="183.3" y="2375.5">0.3</text>
<text x="183.3" y="2110.3">0.4</text>
<text x="183.3" y="1845.1">0.5</text>
</g>
<g font-size="60" fill="#000" text-anchor="start">
<text x="2242.7" y="3171">0</text>
<text x="2242.7" y="2905.8">0.5</text>
<text x="2242.7" y="2640.6">1</text>
<text x="2242.7" y="2375.5">1.5</text>
<text x="2242.7" y="2110.3">2</text>
<text x="2242.7" y="1845.1">2.5</text>
</g>
<g font-size="66.7" text-anchor="middle">
<text x="1221.3" y="1794.9" fill="#000" font-size="65.4">Corn</text>
<text x="1213.8" y="3321.1" fill="#262626">DOY</text>
<text transform="translate(70.6 2488.4) rotate(-90)" fill="#000">VOD</text>
<text transform="translate(2408.2 2488.4) rotate(-90)" fill="#000">Canopy Height (m)</text>
</g>
<rect x="1620.5" y="2350.5" width="530.3" height="779" fill="#fff" stroke="#262626" stroke-width="3" shape-rendering="crispEdges"/>
<g font-size="54.7" fill="#000">
<line x1="1633" y1="2390.5" x2="1764" y2="2390.5" stroke="#ffff00" stroke-width="5" shape-rendering="crispEdges"/>
<text x="1771.5" y="2414.5">V-pol,10<tspan font-family="'DejaVu Sans', sans-serif" font-size="20.6" dx="4.6" dy="-23.4" stroke="#000" stroke-width="0.8">○</tspan></text>
<line x1="1633" y1="2460.4" x2="1764" y2="2460.4" stroke="#ffbf00" stroke-width="5" shape-rendering="crispEdges"/>
<text x="1771.5" y="2484.4">V-pol,20<tspan font-family="'DejaVu Sans', sans-serif" font-size="20.6" dx="4.6" dy="-23.4" stroke="#000" stroke-width="0.8">○</tspan></text>
<line x1="1633" y1="2530.4" x2="1764" y2="2530.4" stroke="#ff8000" stroke-width="5" shape-rendering="crispEdges"/>
<text x="1771.5" y="2554.4">V-pol,30<tspan font-family="'DejaVu Sans', sans-serif" font-size="20.6" dx="4.6" dy="-23.4" stroke="#000" stroke-width="0.8">○</tspan></text>
<line x1="1633" y1="2600.3" x2="1764" y2="2600.3" stroke="#ff4000" stroke-width="5" shape-rendering="crispEdges"/>
<text x="1771.5" y="2624.3">V-pol,40<tspan font-family="'DejaVu Sans', sans-serif" font-size="20.6" dx="4.6" dy="-23.4" stroke="#000" stroke-width="0.8">○</tspan></text>
<line x1="1633" y1="2670.3" x2="1764" y2="2670.3" stroke="#ff0000" stroke-width="5" shape-rendering="crispEdges"/>
<text x="1771.5" y="2694.3">V-pol,50<tspan font-family="'DejaVu Sans', sans-serif" font-size="20.6" dx="4.6" dy="-23.4" stroke="#000" stroke-width="0.8">○</tspan></text>
<line x1="1633" y1="2740.2" x2="1764" y2="2740.2" stroke="#00ff80" stroke-width="5" shape-rendering="crispEdges"/>
<text x="1771.5" y="2764.2">H-pol,10<tspan font-family="'DejaVu Sans', sans-serif" font-size="20.6" dx="4.6" dy="-23.4" stroke="#000" stroke-width="0.8">○</tspan></text>
<line x1="1633" y1="2810.2" x2="1764" y2="2810.2" stroke="#00bfa0" stroke-width="5" shape-rendering="crispEdges"/>
<text x="1771.5" y="2834.2">H-pol,20<tspan font-family="'DejaVu Sans', sans-serif" font-size="20.6" dx="4.6" dy="-23.4" stroke="#000" stroke-width="0.8">○</tspan></text>
<line x1="1633" y1="2880.2" x2="1764" y2="2880.2" stroke="#0080bf" stroke-width="5" shape-rendering="crispEdges"/>
<text x="1771.5" y="2904.2">H-pol,30<tspan font-family="'DejaVu Sans', sans-serif" font-size="20.6" dx="4.6" dy="-23.4" stroke="#000" stroke-width="0.8">○</tspan></text>
<line x1="1633" y1="2950.1" x2="1764" y2="2950.1" stroke="#0040df" stroke-width="5" shape-rendering="crispEdges"/>
<text x="1771.5" y="2974.1">H-pol,40<tspan font-family="'DejaVu Sans', sans-serif" font-size="20.6" dx="4.6" dy="-23.4" stroke="#000" stroke-width="0.8">○</tspan></text>
<line x1="1633" y1="3020.1" x2="1764" y2="3020.1" stroke="#0000ff" stroke-width="5" shape-rendering="crispEdges"/>
<text x="1771.5" y="3044.1">H-pol,50<tspan font-family="'DejaVu Sans', sans-serif" font-size="20.6" dx="4.6" dy="-23.4" stroke="#000" stroke-width="0.8">○</tspan></text>
<line x1="1633" y1="3090" x2="1764" y2="3090" stroke="#000" stroke-width="8" shape-rendering="crispEdges"/>
<text x="1771.5" y="3114">Canopy Height</text>
</g>
</g>
</svg>
</body>
</html>
